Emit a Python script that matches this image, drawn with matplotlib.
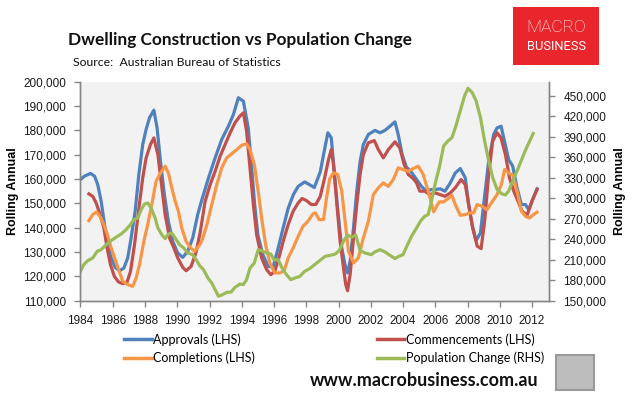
import numpy as np
import matplotlib
matplotlib.use("Agg")
import matplotlib.pyplot as plt
from matplotlib.patches import Rectangle
from matplotlib.lines import Line2D
from matplotlib.ticker import FuncFormatter

plt.rcParams['font.family'] = ['Lato', 'DejaVu Sans']

# values (year, thousands)
appr_x = [1984.0, 1984.25, 1984.62, 1984.87, 1985.07, 1985.28, 1985.49, 1985.7, 1985.9, 1986.15,
          1986.42, 1986.69, 1986.93, 1987.14, 1987.39, 1987.62, 1987.86, 1988.07, 1988.28, 1988.55,
          1988.75, 1988.96, 1989.2, 1989.45, 1989.72, 1990.03, 1990.34, 1990.65, 1990.96, 1991.27,
          1991.5, 1991.94, 1992.35, 1992.76, 1993.17, 1993.48, 1993.79, 1994.1, 1994.4, 1994.6,
          1994.8, 1995.0, 1995.3, 1995.65, 1995.95, 1996.26, 1996.57, 1996.88, 1997.2, 1997.5,
          1997.9, 1998.2, 1998.5, 1998.87, 1999.07, 1999.34, 1999.55, 1999.75, 1999.96, 2000.2,
          2000.4, 2000.56, 2000.72, 2000.93, 2001.13, 2001.34, 2001.54, 2001.85, 2002.26, 2002.57,
          2002.88, 2003.19, 2003.5, 2003.7, 2003.95, 2004.2, 2004.5, 2004.84, 2005.14, 2005.45,
          2005.76, 2006.0, 2006.3, 2006.6, 2006.93, 2007.24, 2007.55, 2007.86, 2008.07, 2008.28,
          2008.53, 2008.8, 2009.0, 2009.31, 2009.62, 2009.83, 2010.08, 2010.29, 2010.55, 2010.8,
          2011.07, 2011.34, 2011.59, 2011.8, 2012.07, 2012.31]
appr_y = [159.8, 161.2, 162.3, 161.2, 157.7, 150.9, 141.3, 133.0, 127.6, 123.7,
          122.3, 123.4, 127.6, 135.8, 146.8, 161.9, 174.2, 180.4, 185.2, 188.3,
          181.0, 167.3, 153.6, 142.6, 134.4, 129.6, 127.8, 130.3, 135.8, 145.4,
          150.9, 160.5, 168.7, 176.3, 181.7, 186.5, 193.4, 192.0, 181.0, 166.0,
          149.5, 137.0, 129.0, 124.0, 124.0, 131.7, 140.0, 148.0, 153.6, 157.0,
          158.8, 157.7, 156.5, 163.0, 170.0, 179.0, 177.0, 161.9, 146.8, 131.7,
          124.8, 121.4, 126.2, 140.0, 155.0, 167.3, 174.2, 178.3, 180.0, 179.0,
          180.0, 181.7, 183.5, 178.3, 170.0, 165.0, 163.0, 159.8, 157.0, 155.0,
          155.7, 155.7, 156.0, 155.0, 158.4, 162.5, 164.3, 160.5, 149.5, 141.3,
          134.7, 137.8, 149.5, 167.3, 178.3, 181.0, 181.7, 175.6, 168.0, 165.3,
          156.4, 149.5, 149.5, 147.4, 152.2, 156.0]

comm_x = [1984.52, 1984.76, 1984.97, 1985.18, 1985.45, 1985.65, 1985.86, 1986.1, 1986.36, 1986.62,
          1986.89, 1987.1, 1987.35, 1987.6, 1987.86, 1988.07, 1988.34, 1988.55, 1988.8, 1989.0,
          1989.25, 1989.52, 1989.79, 1990.03, 1990.34, 1990.55, 1990.86, 1991.17, 1991.42, 1991.73,
          1992.04, 1992.35, 1992.66, 1992.97, 1993.28, 1993.58, 1993.89, 1994.1, 1994.3, 1994.51,
          1994.72, 1994.92, 1995.23, 1995.54, 1995.8, 1996.05, 1996.3, 1996.57, 1996.88, 1997.19,
          1997.5, 1997.74, 1998.0, 1998.32, 1998.6, 1998.87, 1999.14, 1999.38, 1999.55, 1999.69,
          1999.9, 2000.1, 2000.31, 2000.45, 2000.56, 2000.72, 2000.93, 2001.13, 2001.34, 2001.54,
          2001.85, 2002.22, 2002.47, 2002.78, 2003.09, 2003.5, 2003.8, 2004.07, 2004.32, 2004.63,
          2004.84, 2005.04, 2005.35, 2005.66, 2006.0, 2006.3, 2006.6, 2006.93, 2007.24, 2007.6,
          2007.86, 2008.07, 2008.32, 2008.6, 2008.84, 2009.06, 2009.31, 2009.56, 2009.83, 2010.08,
          2010.35, 2010.6, 2010.87, 2011.13, 2011.38, 2011.69, 2012.0, 2012.31]
comm_y = [153.9, 152.9, 150.2, 146.1, 139.9, 131.7, 124.8, 120.0, 117.7, 117.0,
          117.7, 122.0, 133.0, 146.8, 160.5, 168.7, 174.2, 176.9, 170.0, 159.1,
          145.4, 135.8, 131.7, 127.6, 123.7, 122.3, 124.1, 130.0, 138.0, 150.9,
          157.7, 163.2, 169.4, 174.2, 179.0, 183.1, 185.9, 187.2, 179.7, 164.6,
          149.5, 137.2, 127.6, 122.8, 120.7, 122.1, 127.6, 134.4, 141.3, 146.8,
          150.2, 152.0, 151.2, 149.5, 149.6, 152.9, 160.5, 168.0, 172.1, 166.0,
          149.5, 134.4, 123.4, 116.6, 114.1, 120.7, 135.8, 149.5, 161.9, 170.1,
          174.9, 175.8, 172.1, 168.7, 172.1, 175.3, 172.8, 166.0, 161.9, 160.2,
          158.4, 155.0, 155.0, 153.6, 154.3, 153.6, 152.9, 154.3, 156.4, 159.8,
          157.7, 149.5, 139.9, 132.4, 131.4, 142.6, 161.9, 175.6, 179.0, 176.9,
          170.0, 160.5, 155.0, 150.9, 146.8, 145.1, 150.9, 155.7]

comp_x = [1984.52, 1984.76, 1985.0, 1985.24, 1985.49, 1985.7, 1985.9, 1986.15, 1986.36, 1986.62,
          1986.93, 1987.24, 1987.45, 1987.66, 1987.93, 1988.17, 1988.42, 1988.69, 1988.96, 1989.25,
          1989.45, 1989.66, 1989.87, 1990.07, 1990.28, 1990.55, 1990.82, 1991.07, 1991.4, 1991.55,
          1991.84, 1992.14, 1992.45, 1992.76, 1993.07, 1993.38, 1993.69, 1994.0, 1994.3, 1994.51,
          1994.78, 1995.02, 1995.23, 1995.48, 1995.74, 1996.05, 1996.36, 1996.63, 1996.88, 1997.19,
          1997.5, 1997.8, 1998.1, 1998.42, 1998.56, 1998.8, 1999.07, 1999.25, 1999.45, 1999.69,
          1999.95, 2000.2, 2000.41, 2000.62, 2000.93, 2001.23, 2001.54, 2001.85, 2002.16, 2002.47,
          2002.78, 2003.09, 2003.4, 2003.7, 2004.0, 2004.32, 2004.63, 2004.94, 2005.25, 2005.56,
          2005.9, 2006.1, 2006.25, 2006.5, 2006.8, 2007.03, 2007.24, 2007.55, 2007.86, 2008.17,
          2008.38, 2008.59, 2008.9, 2009.2, 2009.52, 2009.83, 2010.1, 2010.3, 2010.55, 2010.8,
          2011.07, 2011.34, 2011.59, 2011.84, 2012.1, 2012.31]
comp_y = [142.9, 145.4, 146.5, 144.3, 140.6, 136.5, 131.7, 126.9, 122.8, 118.0,
          116.6, 115.9, 119.3, 124.8, 134.4, 141.3, 149.5, 159.1, 162.5, 165.3,
          162.5, 156.4, 150.9, 146.8, 139.9, 134.4, 131.7, 130.3, 133.0, 135.0,
          141.3, 149.5, 157.7, 164.6, 168.7, 170.4, 172.1, 173.9, 174.5, 172.1,
          166.0, 155.0, 144.0, 133.0, 125.5, 121.4, 121.4, 122.3, 127.6, 131.7,
          136.5, 140.6, 142.6, 145.7, 146.1, 143.3, 143.3, 152.0, 160.0, 162.5,
          161.9, 155.0, 142.6, 130.3, 125.5, 127.6, 135.8, 142.6, 153.6, 156.4,
          158.4, 157.0, 159.8, 164.6, 163.9, 163.2, 164.3, 165.3, 161.9, 155.0,
          146.5, 149.0, 150.6, 150.6, 152.0, 153.3, 149.5, 145.1, 145.4, 146.1,
          146.1, 149.5, 148.8, 147.4, 150.6, 153.6, 157.7, 163.9, 162.5, 161.6,
          155.0, 146.8, 144.7, 144.0, 145.4, 146.4]

pop_x = [1984.0, 1984.2, 1984.45, 1984.76, 1985.03, 1985.28, 1985.6, 1985.9, 1986.2, 1986.52,
         1986.83, 1987.1, 1987.3, 1987.55, 1987.76, 1987.97, 1988.17, 1988.38, 1988.63, 1988.8,
         1989.04, 1989.25, 1989.45, 1989.66, 1989.87, 1990.14, 1990.4, 1990.65, 1990.96, 1991.17,
         1991.4, 1991.63, 1991.9, 1992.14, 1992.35, 1992.56, 1992.8, 1993.07, 1993.34, 1993.58,
         1993.89, 1994.1, 1994.3, 1994.51, 1994.78, 1995.02, 1995.23, 1995.54, 1995.8, 1996.0,
         1996.26, 1996.5, 1996.77, 1997.04, 1997.29, 1997.6, 1997.9, 1998.21, 1998.52, 1998.83,
         1999.18, 1999.49, 1999.8, 2000.04, 2000.31, 2000.56, 2000.82, 2001.07, 2001.34, 2001.65,
         2002.02, 2002.26, 2002.57, 2002.88, 2003.19, 2003.5, 2003.74, 2004.0, 2004.28, 2004.53,
         2004.84, 2005.1, 2005.35, 2005.56, 2005.76, 2006.0, 2006.25, 2006.52, 2006.79, 2007.04,
         2007.28, 2007.55, 2007.82, 2008.03, 2008.28, 2008.53, 2008.8, 2009.06, 2009.31, 2009.56,
         2009.83, 2010.1, 2010.35, 2010.55, 2010.8, 2011.07, 2011.34, 2011.59, 2011.86, 2012.07]
pop_y = [193.0, 202.7, 208.6, 212.5, 222.2, 224.7, 232.0, 237.9, 242.8, 247.6,
         254.0, 261.3, 268.6, 271.0, 283.2, 291.5, 293.0, 285.7, 271.0, 256.4,
         246.6, 240.8, 247.6, 249.1, 241.8, 232.0, 227.1, 219.8, 217.4, 210.0,
         201.0, 195.4, 183.2, 175.9, 166.1, 156.4, 158.8, 162.2, 162.7, 169.5,
         174.4, 173.5, 180.8, 197.8, 205.1, 224.7, 223.2, 219.8, 218.3, 210.0,
         210.0, 197.8, 188.1, 180.8, 183.2, 185.6, 193.0, 196.9, 202.7, 208.6,
         215.0, 216.4, 218.3, 223.2, 237.1, 245.9, 243.0, 245.9, 223.2, 219.8,
         217.4, 221.4, 224.7, 221.4, 216.4, 211.7, 215.0, 217.4, 232.0, 244.4,
         256.4, 267.1, 273.5, 276.0, 295.4, 322.0, 345.0, 376.6, 383.9, 388.8,
         405.9, 428.0, 450.0, 460.8, 454.9, 442.6, 418.2, 383.9, 354.6, 330.1,
         313.0, 306.6, 304.7, 310.5, 325.2, 339.9, 355.5, 370.2, 383.9, 394.7]

years = list(range(1984, 2013, 2))
left_ticks = list(range(110000, 200001, 10000))
right_ticks = list(range(150000, 450001, 30000))

c_appr = '#4F81BD'
c_comm = '#C0504D'
c_comp = '#F79646'
c_pop = '#9BBB59'
axis_col = '#868686'
tick_font = ['Liberation Sans', 'DejaVu Sans']

fig = plt.figure(figsize=(6.33, 3.98), dpi=100)
W, H = 633.0, 398.0
ax = fig.add_axes([80 / W, 1 - 300.7 / H, 469.3 / W, 219 / H])
ax.set_facecolor('#F2F2F2')
ax2 = ax.twinx()

lw = 2.3
ax.plot(appr_x, np.array(appr_y) * 1000, color=c_appr, lw=lw, solid_joinstyle='round')
ax.plot(comm_x, np.array(comm_y) * 1000, color=c_comm, lw=lw, solid_joinstyle='round')
ax.plot(comp_x, np.array(comp_y) * 1000, color=c_comp, lw=lw, solid_joinstyle='round')
ax2.plot(pop_x, np.array(pop_y) * 1000, color=c_pop, lw=lw, solid_joinstyle='round')

ax.set_xlim(1983.97, 2013.07)
ax.set_ylim(110000, 200000)
ax2.set_ylim(150000, 470500)
ax.set_xticks(years)
ax.set_yticks(left_ticks)
ax2.set_yticks(right_ticks)

fmt = FuncFormatter(lambda v, p: '{:,.0f}'.format(v))
ax.yaxis.set_major_formatter(fmt)
ax2.yaxis.set_major_formatter(fmt)

for a in (ax, ax2):
    a.spines['top'].set_visible(False)
    for s in ('left', 'right', 'bottom'):
        a.spines[s].set_color(axis_col)
        a.spines[s].set_linewidth(1.0)
    a.tick_params(axis='both', direction='out', length=4, width=1.0, color=axis_col,
                  labelsize=8.5, labelcolor='#1A1A1A')
    for lab in a.get_xticklabels() + a.get_yticklabels():
        lab.set_family(tick_font)
ax.tick_params(axis='y', pad=6)
ax2.tick_params(axis='y', pad=6)
ax.tick_params(axis='x', pad=6)

ax.set_ylabel('Rolling Annual', fontsize=9, fontweight='bold', family=tick_font)
ax2.set_ylabel('Rolling Annual', fontsize=9, fontweight='bold', rotation=90, family=tick_font)
ax.yaxis.set_label_coords((19 - 80) / 469.3, 0.5)
ax2.yaxis.set_label_coords((614 - 80) / 469.3, 0.5)

# legend
handles = [Line2D([], [], color=c_appr, lw=2.5), Line2D([], [], color=c_comp, lw=2.5),
           Line2D([], [], color=c_comm, lw=2.5), Line2D([], [], color=c_pop, lw=2.5)]
labels = ['Approvals (LHS)', 'Completions (LHS)', 'Commencements (LHS)', 'Population Change (RHS)']
fig.legend(handles, labels, ncol=2, loc='upper left', bbox_to_anchor=(119 / W, 1 - 328 / H),
           frameon=False, fontsize=9, handlelength=2.2, handletextpad=0.15,
           columnspacing=9.7, labelspacing=0.5, borderpad=0.4, borderaxespad=0)

# titles
fig.text(68 / W, 1 - 40 / H, 'Dwelling Construction vs Population Change', fontsize=12.4,
         fontweight='bold', va='center', ha='left', color='#111111')
fig.text(73 / W, 1 - 63 / H, 'Source:  Australian Bureau of Statistics', fontsize=8.8,
         va='center', ha='left', color='#111111')
fig.text(310 / W, 1 - 381 / H, 'www.macrobusiness.com.au', fontsize=13,
         fontweight='bold', va='center', ha='left', color='#111111')

# logo
fig.patches.append(Rectangle((513 / W, 1 - 65 / H), 86 / W, 58 / H, transform=fig.transFigure,
                             facecolor='#E8262B', edgecolor='none'))
fig.text(556 / W, 1 - 27 / H, 'MACRO', fontsize=12.5, color='white', ha='center', va='center',
         family=['Roboto', 'DejaVu Sans'], fontweight='light')
fig.text(556 / W, 1 - 47 / H, 'BUSINESS', fontsize=9.3, color='white', ha='center', va='center',
         family=['Roboto', 'DejaVu Sans'])

# wolf badge placeholder
fig.patches.append(Rectangle((556 / W, 1 - 390 / H), 38 / W, 35 / H, transform=fig.transFigure,
                             facecolor='#BDBDBD', edgecolor='#9A9A9A', lw=1.5))

fig.savefig('out.png', dpi=100)
